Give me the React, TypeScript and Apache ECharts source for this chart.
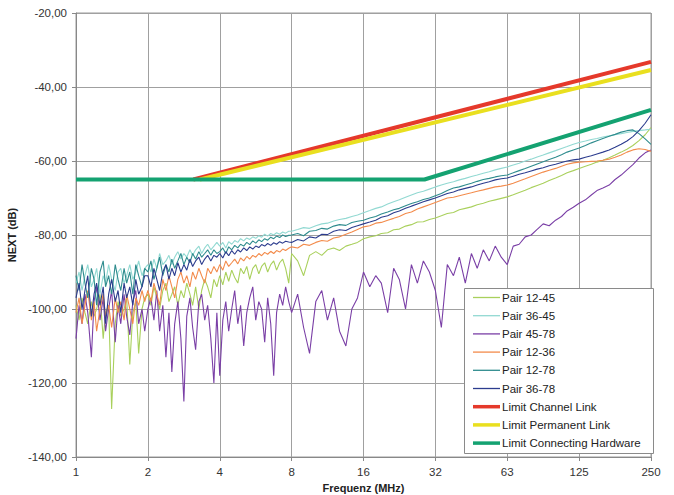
import React, { useEffect, useRef } from "react";
import * as echarts from "echarts";

// Frequency grid (MHz): 1/24 octave from 1 to 8 MHz, 1/12 octave from 8 MHz; axis end "250" sits on 256.
const FREQ_MHZ = [
  1, 1.03, 1.06, 1.09, 1.12, 1.16, 1.19, 1.22, 1.26, 1.3, 1.33, 1.37,
  1.41, 1.46, 1.5, 1.54, 1.59, 1.63, 1.68, 1.73, 1.78, 1.83, 1.89, 1.94,
  2, 2.06, 2.12, 2.18, 2.24, 2.31, 2.38, 2.45, 2.52, 2.59, 2.67, 2.75,
  2.83, 2.91, 3, 3.08, 3.17, 3.27, 3.36, 3.46, 3.56, 3.67, 3.78, 3.89,
  4, 4.12, 4.24, 4.36, 4.49, 4.62, 4.76, 4.89, 5.04, 5.19, 5.34, 5.5,
  5.66, 5.83, 5.99, 6.17, 6.35, 6.54, 6.73, 6.92, 7.13, 7.34, 7.55, 7.78,
  8, 8.48, 8.98, 9.51, 10.1, 10.7, 11.3, 12, 12.7, 13.5, 14.3, 15.1,
  16, 17, 18, 19, 20.2, 21.4, 22.6, 24, 25.4, 26.9, 28.5, 30.2,
  32, 33.9, 35.9, 38.1, 40.3, 42.7, 45.3, 47.9, 50.8, 53.8, 57, 60.4,
  64, 67.8, 71.8, 76.1, 80.6, 85.4, 90.5, 95.9, 102, 108, 114, 121,
  128, 136, 144, 152, 161, 171, 181, 192, 203, 215, 228, 242,
  256,
];

const PAIR_12_45 = [
  -99, -103, -97, -101, -104, -98, -102, -100, -96, -108, -101, -99,
  -127, -104, -98, -102, -100, -97, -115, -101, -98, -112, -100, -97,
  -96, -99, -94, -97, -100, -95, -93, -98, -96, -94, -99, -95,
  -97, -93, -96, -99, -94, -100, -95, -92, -94, -97, -92, -94,
  -91, -93.5, -90, -92.5, -89.5, -91.5, -93, -89, -90.5, -88.5, -92, -89,
  -88, -90.5, -88.5, -87.5, -90, -88, -87, -89.5, -87.5, -86.5, -89, -93,
  -85, -87, -91, -85.5, -84.5, -85.5, -84, -83.5, -84.2, -83, -82.5, -82,
  -81, -80.5, -80.2, -79.6, -79.4, -78.6, -78.4, -77.6, -77.2, -76.5, -76.4, -75.8,
  -75.4, -74.8, -74.2, -73.9, -73.2, -72.8, -72.4, -71.8, -71.4, -70.9, -70.5, -70.1,
  -69.7, -69.1, -68.5, -67.9, -67.2, -66.6, -66, -65.3, -64.6, -63.9, -63.2, -62.6,
  -62, -61.4, -60.9, -60.3, -59.8, -59.1, -58.4, -57.6, -56.8, -55.8, -54.5, -52.9,
  -51,
];

const PAIR_36_45 = [
  -93, -90, -95, -91, -88, -94, -92, -89, -96, -91, -93, -88,
  -92, -95, -90, -89, -93, -91, -88, -92, -90, -87, -91, -89,
  -88, -90, -86.5, -89, -85, -88, -87, -85.5, -88, -86, -84.5, -86.5,
  -85, -86, -84, -85.5, -84, -83, -85, -83.5, -82.5, -84, -83, -82,
  -83, -82, -83.5, -81.8, -82.5, -81.5, -82, -81, -81.6, -80.8, -81.2, -80.5,
  -80.9, -80.2, -80.6, -79.8, -80.3, -79.6, -80, -79.4, -79.8, -79.2, -79.5, -79,
  -79, -78.5, -78, -78.2, -77.5, -77, -76.8, -76.2, -75.8, -75.5, -75, -74.6,
  -74, -73.4, -72.8, -72.4, -71.6, -71, -70.5, -69.8, -69.2, -68.6, -68.2, -67.6,
  -67, -66.5, -66, -65.6, -65.1, -64.7, -64.2, -63.8, -63.3, -62.9, -62.4, -62,
  -61.6, -61.1, -60.6, -60, -59.5, -58.9, -58.4, -57.8, -57.2, -56.6, -56.1, -55.5,
  -55, -54.6, -54.2, -53.9, -53.5, -53.2, -52.9, -52.6, -52.3, -52, -51.8, -51.6,
  -51.4,
];

const PAIR_45_78 = [
  -108, -99, -104, -96, -101, -113, -98, -94, -103, -97, -106, -100,
  -95, -109, -99, -104, -96, -102, -107, -98, -95, -104, -100, -106,
  -100, -97, -103, -95, -106, -99, -113, -101, -117, -104, -98, -108,
  -125, -102, -97, -105, -111, -98, -96, -103, -99, -108, -120, -101,
  -118, -103, -98, -106, -100, -95, -104, -99, -110, -101, -97, -94,
  -103, -98, -100, -109, -97, -104, -118, -101, -96, -99, -94, -98,
  -101, -96, -105, -112, -98, -95, -103, -97, -106, -110, -100, -97,
  -90, -94, -91, -93, -101, -89, -92, -100, -88, -93, -87, -90,
  -95, -105, -88, -91, -86, -93, -85, -89, -84, -87, -83, -86,
  -88, -83, -82.5, -80.5, -80, -78.5, -77, -77.5, -76, -75, -73.5, -72.5,
  -71.4, -70.5, -69.2, -68, -67.3, -66.5, -65, -63.8, -62.4, -61, -59.2, -57.8,
  -57,
];

const PAIR_12_36 = [
  -101, -97, -104, -99, -95, -103, -98, -106, -100, -96, -102, -99,
  -105, -97, -101, -98, -103, -96, -100, -104, -97, -99, -95, -98,
  -95, -98, -93, -96, -99, -92, -95, -91, -94, -97, -92, -90,
  -93, -91, -94, -90, -92, -89, -91, -93, -89, -90.5, -88.5, -90,
  -88, -89.5, -87, -88.5, -87.5, -86.5, -87.8, -86.2, -87, -85.8, -86.5, -85.5,
  -86, -85, -85.6, -84.7, -85.2, -84.4, -85, -84.2, -84.6, -83.8, -84.2, -83.6,
  -83.2, -83.5, -82.5, -82.8, -82, -81.5, -81.7, -80.8, -80.5, -79.8, -79.2, -78.5,
  -77.8, -77.5, -76.8, -76.6, -76, -75.5, -75, -74.2, -73.8, -73, -72.4, -71.8,
  -71.2, -70.6, -70, -69.8, -69.4, -69, -68.6, -68.2, -67.8, -67.4, -67, -66.8,
  -66.5, -66, -65.4, -64.8, -64.2, -63.6, -63, -62.5, -62, -61.4, -60.9, -60.5,
  -60.3, -60.2, -60.1, -60, -59.8, -59.5, -59, -58.4, -57.6, -57, -56.7, -56.9,
  -57.4,
];

const PAIR_12_78 = [
  -91, -95, -88, -93, -97, -89, -92, -99, -90, -87, -94, -91,
  -96, -88, -92, -95, -89, -93, -90, -96, -88, -91, -94, -89,
  -90, -87, -92, -89, -86, -91, -88, -90, -86.5, -89, -87, -85,
  -88, -86, -87.5, -85, -86.5, -84.5, -86, -85, -84, -85.5, -84, -85,
  -84.5, -83.5, -85, -83.2, -84, -82.8, -83.5, -82.5, -83, -82, -82.6, -81.6,
  -82.2, -81.3, -81.8, -81, -81.4, -80.6, -81, -80.3, -80.7, -80, -80.4, -80.1,
  -80, -79.6, -80.2, -79, -78.8, -78.2, -78.4, -77.6, -77.2, -77.4, -76.6, -76.3,
  -76, -75.4, -75, -74.3, -73.8, -73.2, -72.8, -72.1, -71.5, -71, -70.4, -70,
  -69.4, -68.8, -68, -67.3, -67, -66.5, -66, -65.5, -65, -64.7, -64.3, -64,
  -63.8, -63.2, -62.6, -62, -61.4, -60.8, -60.2, -59.6, -59, -58.3, -57.6, -57,
  -56.5, -55.8, -55.1, -54.5, -53.9, -53.3, -52.8, -52.2, -51.8, -51.6, -52.6, -54,
  -55.5,
];

const PAIR_36_78 = [
  -97, -93, -100, -95, -91, -102, -96, -93, -99, -94, -104, -96,
  -92, -98, -95, -101, -93, -97, -94, -99, -92, -96, -94, -91,
  -91, -94, -89, -92, -95, -90, -88, -92, -89, -91, -87.5, -90,
  -88, -89.5, -86.5, -88.5, -87, -86, -88, -86.5, -85.5, -87, -85.5, -86,
  -85, -86.2, -84.5, -85.6, -84.2, -85.2, -84, -84.6, -83.5, -84.2, -83.2, -83.8,
  -83, -83.4, -82.6, -83, -82.3, -82.8, -82.1, -82.5, -81.8, -82.2, -81.7, -81.9,
  -82, -81.2, -81.6, -80.5, -80.8, -79.8, -79.9, -79, -78.6, -78.8, -78, -77.5,
  -77, -76.5, -76, -75.2, -74.8, -74, -73.5, -72.8, -72.2, -71.6, -71, -70.5,
  -70, -69.4, -68.8, -68.4, -67.8, -67.4, -67, -66.5, -66, -65.6, -65.1, -64.8,
  -64.6, -64.1, -63.6, -63.2, -62.7, -62.2, -61.8, -61.3, -60.9, -60.4, -60, -59.7,
  -59.5, -59, -58.6, -58.1, -57.6, -57, -56.3, -55.5, -54.6, -53.4, -51.8, -49.8,
  -47.5,
];

const LIMIT_CHANNEL_X = [3.1, 256];
const LIMIT_CHANNEL_Y = [-65, -33.2];
const LIMIT_PERMANENT_X = [3.3, 256];
const LIMIT_PERMANENT_Y = [-65, -35.4];
const LIMIT_HARDWARE_X = [1, 28.8, 256];
const LIMIT_HARDWARE_Y = [-65, -65, -46.2];

const X_TICK_LABELS: Record<number, string> = {
  1: "1", 2: "2", 4: "4", 8: "8", 16: "16", 32: "32", 64: "63", 128: "125", 256: "250",
};

const PAIRS = [
  { name: "Pair 12-45", values: PAIR_12_45, color: "#A9D05C" },
  { name: "Pair 36-45", values: PAIR_36_45, color: "#92D9D2" },
  { name: "Pair 45-78", values: PAIR_45_78, color: "#7A3FA6" },
  { name: "Pair 12-36", values: PAIR_12_36, color: "#F38B4B" },
  { name: "Pair 12-78", values: PAIR_12_78, color: "#2F8C8E" },
  { name: "Pair 36-78", values: PAIR_36_78, color: "#2C3C8E" },
];

const LIMITS = [
  { name: "Limit Channel Link", xs: LIMIT_CHANNEL_X, ys: LIMIT_CHANNEL_Y, color: "#E5392B" },
  { name: "Limit Permanent Link", xs: LIMIT_PERMANENT_X, ys: LIMIT_PERMANENT_Y, color: "#E9DF1F" },
  { name: "Limit Connecting Hardware", xs: LIMIT_HARDWARE_X, ys: LIMIT_HARDWARE_Y, color: "#14A271" },
];

const FONT = "'Liberation Sans', Arial, sans-serif";

export default function App() {
  const ref = useRef<HTMLDivElement>(null);
  useEffect(() => {
    document.body.style.margin = "0";
    const chart = echarts.init(ref.current!, undefined, { renderer: "svg" });
    const series: any[] = [];
    PAIRS.forEach((p) => {
      series.push({
        name: p.name,
        type: "line",
        data: FREQ_MHZ.map((f, i) => [f, p.values[i]]),
        showSymbol: false,
        symbol: "none",
        lineStyle: { color: p.color, width: 1.1 },
        itemStyle: { color: p.color },
      });
    });
    LIMITS.forEach((l) => {
      series.push({
        name: l.name,
        type: "line",
        data: l.xs.map((x, i) => [x, l.ys[i]]),
        showSymbol: false,
        symbol: "none",
        lineStyle: { color: l.color, width: 4 },
        itemStyle: { color: l.color },
      });
    });

    // Legend box drawn with graphic elements
    const legendItems = [
      ...PAIRS.map((p) => ({ name: p.name, color: p.color, w: 1.3 })),
      ...LIMITS.map((l) => ({ name: l.name, color: l.color, w: 3.5 })),
    ];
    const graphic: any[] = [
      {
        type: "rect",
        z: 100,
        shape: { x: 464.5, y: 288.5, width: 189, height: 165 },
        style: { fill: "#ffffff", stroke: "#8a8a8a", lineWidth: 1 },
      },
    ];
    legendItems.forEach((it, i) => {
      const cy = 297.5 + i * 18.2;
      graphic.push({
        type: "line",
        z: 101,
        shape: { x1: 473, y1: cy, x2: 500, y2: cy },
        style: { stroke: it.color, lineWidth: it.w },
      });
      graphic.push({
        type: "text",
        z: 101,
        x: 502,
        y: cy,
        style: {
          text: it.name,
          fill: "#222",
          font: `11.5px ${FONT}`,
          verticalAlign: "middle",
          align: "left",
        },
      });
    });

    chart.setOption({
      animation: false,
      backgroundColor: "#ffffff",
      textStyle: { fontFamily: FONT },
      grid: {
        left: 76,
        right: 23,
        top: 13,
        bottom: 38,
        show: true,
        borderColor: "#9a9a9a",
        borderWidth: 1,
        containLabel: false,
        outerBoundsMode: "none",
      },
      xAxis: {
        type: "log",
        logBase: 2,
        min: 1,
        max: 256,
        splitNumber: 8,
        name: "Frequenz (MHz)",
        nameLocation: "middle",
        nameGap: 25,
        nameTextStyle: { fontFamily: FONT, fontSize: 11, fontWeight: "bold", color: "#222" },
        axisLine: { lineStyle: { color: "#888", width: 1 } },
        axisTick: { show: true, length: 4, lineStyle: { color: "#888" } },
        axisLabel: {
          fontFamily: FONT,
          fontSize: 11.5,
          color: "#333",
          margin: 9,
          formatter: (v: number) => X_TICK_LABELS[Math.round(v)] ?? String(Math.round(v)),
        },
        splitLine: { show: true, lineStyle: { color: "#a0a0a0", width: 1 } },
        minorTick: { show: false },
      },
      yAxis: {
        type: "value",
        min: -140,
        max: -20,
        interval: 20,
        name: "NEXT (dB)",
        nameLocation: "middle",
        nameRotate: 90,
        nameGap: 57,
        nameTextStyle: { fontFamily: FONT, fontSize: 11, fontWeight: "bold", color: "#222" },
        axisLine: { show: true, lineStyle: { color: "#888", width: 1 } },
        axisTick: { show: true, length: 4, lineStyle: { color: "#888" } },
        axisLabel: {
          fontFamily: FONT,
          fontSize: 11.5,
          color: "#333",
          margin: 9,
          formatter: (v: number) => v.toFixed(2).replace(".", ","),
        },
        splitLine: { show: true, lineStyle: { color: "#a0a0a0", width: 1 } },
      },
      graphic,
      series,
    });
    return () => chart.dispose();
  }, []);
  return (
    <div
      ref={ref}
      style={{ position: "absolute", left: 0, top: 0, width: 674, height: 495 }}
    />
  );
}
